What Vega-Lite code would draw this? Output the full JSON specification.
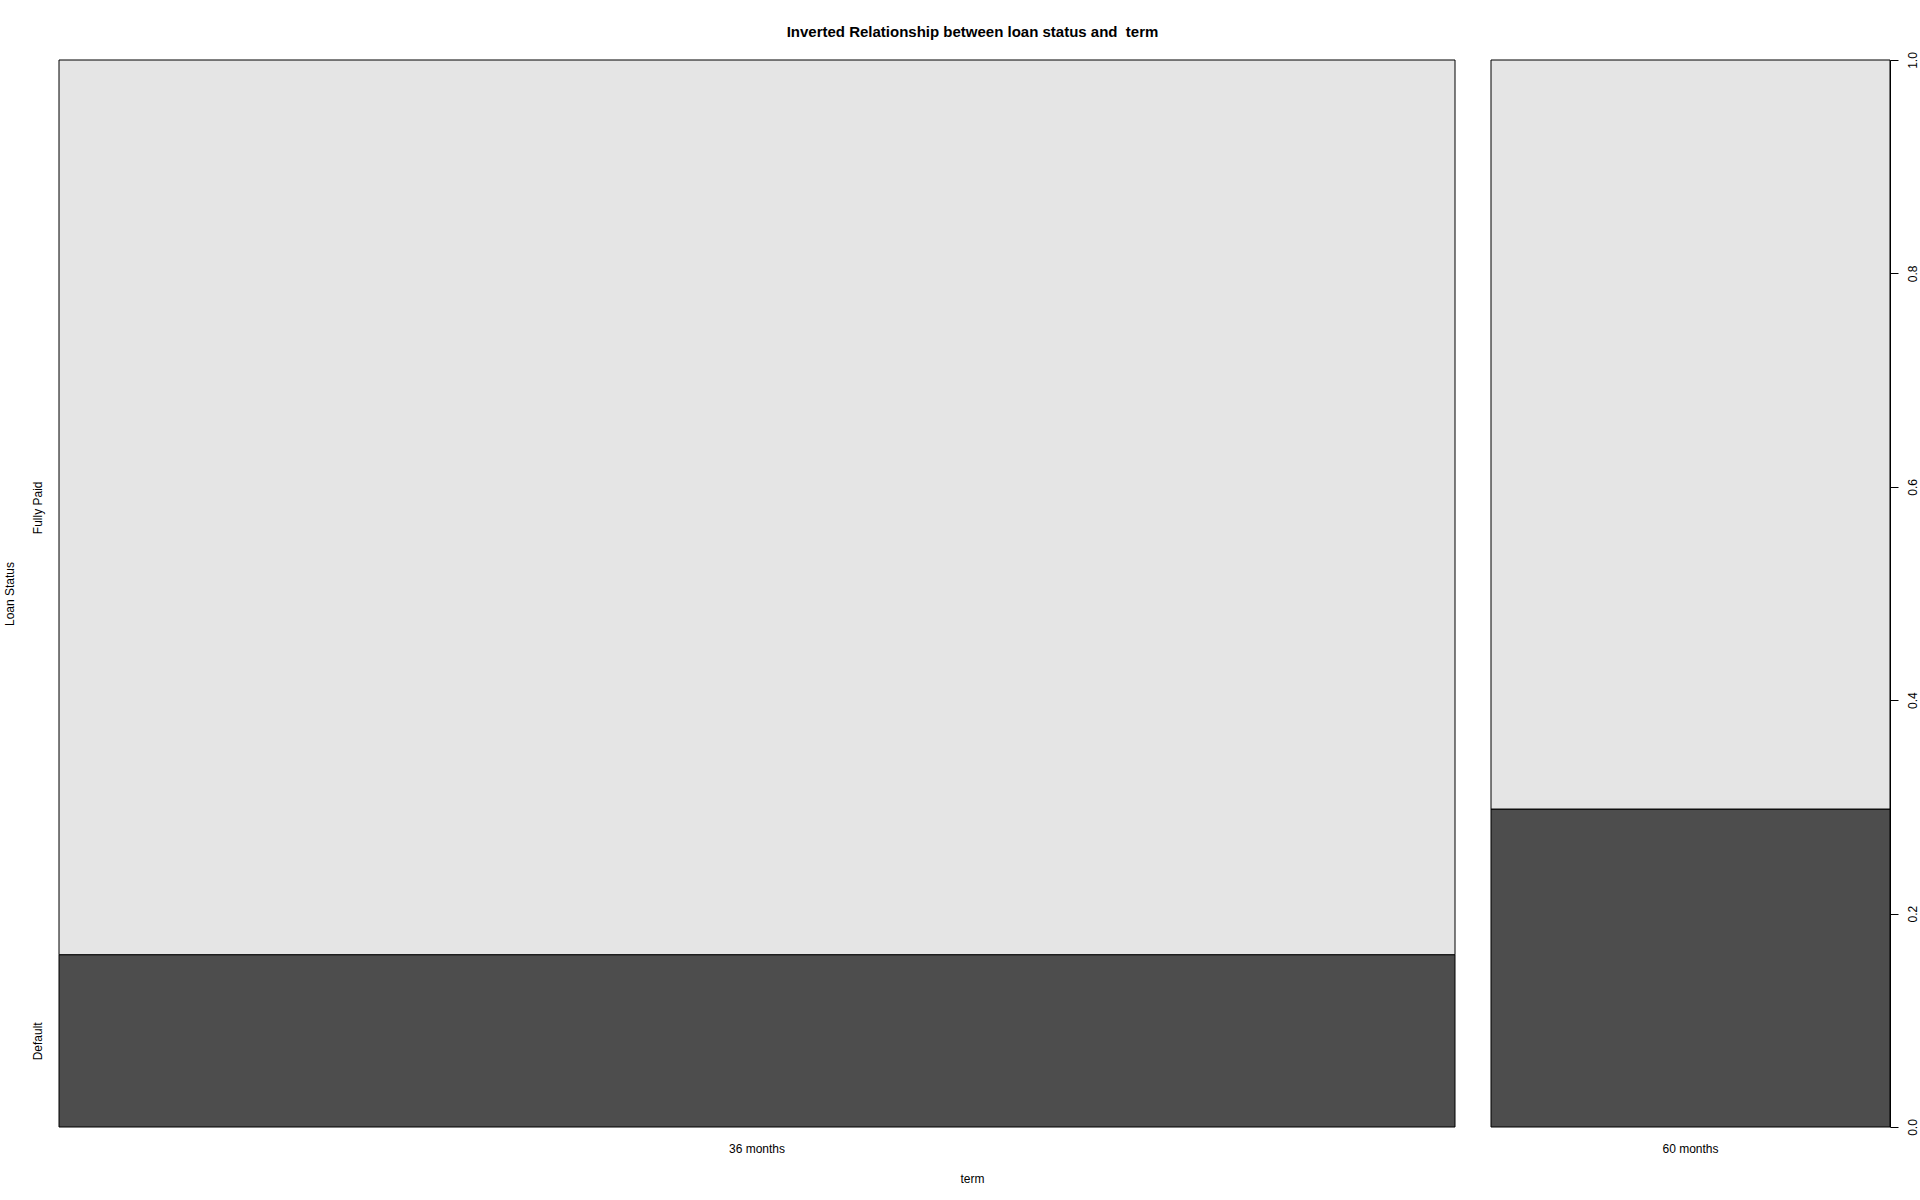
{
  "$schema": "https://vega.github.io/schema/vega-lite/v6.json",
  "background": "white",
  "padding": {"left": 3, "top": 24, "right": 0, "bottom": 0},
  "title": {"text": "Inverted Relationship between loan status and \u00a0term", "font": "Liberation Sans", "fontSize": 15, "fontWeight": "bold", "color": "black", "anchor": "middle", "offset": 12, "dx": 12},
  "data": {"values": [
    {"term": "36 months", "status": "Default", "share": 0.1615},
    {"term": "36 months", "status": "Fully Paid", "share": 0.8385},
    {"term": "60 months", "status": "Default", "share": 0.298},
    {"term": "60 months", "status": "Fully Paid", "share": 0.702}
  ]},
  "spacing": 34,
  "config": {
    "view": {"stroke": null},
    "axis": {"labelFont": "Liberation Sans", "titleFont": "Liberation Sans", "labelColor": "black", "titleColor": "black", "labelFontSize": 12, "titleFontSize": 12, "titleFontWeight": "normal", "grid": false}
  },
  "hconcat": [
    {
      "width": 1396,
      "height": 1067,
      "transform": [{"filter": "datum.term === '36 months'"}],
      "mark": {"type": "bar", "stroke": "black", "strokeWidth": 1},
      "encoding": {
        "x": {"field": "term", "type": "nominal", "scale": {"paddingInner": 0, "paddingOuter": 0},
          "axis": {"title": "term", "titleX": 913, "titleY": 51, "titleBaseline": "middle", "titleAlign": "center", "ticks": false, "domain": false, "labelAngle": 0, "labelPadding": 16}},
        "y": {"field": "share", "type": "quantitative", "stack": "normalize", "scale": {"domain": [0, 1], "nice": false},
          "axis": {"title": "Loan Status", "values": [0.08075, 0.58075], "labelExpr": "datum.value < 0.3 ? 'Default' : 'Fully Paid'", "labelAngle": -90, "labelAlign": "center", "labelBaseline": "bottom", "ticks": false, "domain": false, "labelPadding": 15, "titleX": -50, "titleY": 533.5, "titleAngle": -90, "titleBaseline": "middle", "titleAlign": "center"}},
        "color": {"field": "status", "type": "nominal", "scale": {"domain": ["Default", "Fully Paid"], "range": ["#4d4d4d", "#e5e5e5"]}, "legend": null},
        "order": {"field": "status", "sort": "ascending"}
      }
    },
    {
      "width": 399,
      "height": 1067,
      "transform": [{"filter": "datum.term === '60 months'"}],
      "mark": {"type": "bar", "stroke": "black", "strokeWidth": 1},
      "encoding": {
        "x": {"field": "term", "type": "nominal", "scale": {"paddingInner": 0, "paddingOuter": 0},
          "axis": {"title": null, "ticks": false, "domain": false, "labelAngle": 0, "labelPadding": 16}},
        "y": {"field": "share", "type": "quantitative", "stack": "normalize", "scale": {"domain": [0, 1], "nice": false},
          "axis": {"orient": "right", "title": null, "values": [0, 0.2, 0.4, 0.6, 0.8, 1.0], "labelExpr": "format(datum.value, '.1f')", "labelAngle": -90, "labelAlign": "center", "labelBaseline": "top", "tickSize": 8, "tickColor": "black", "domainColor": "black", "labelPadding": 9}},
        "color": {"field": "status", "type": "nominal", "scale": {"domain": ["Default", "Fully Paid"], "range": ["#4d4d4d", "#e5e5e5"]}, "legend": null},
        "order": {"field": "status", "sort": "ascending"}
      }
    }
  ]
}
